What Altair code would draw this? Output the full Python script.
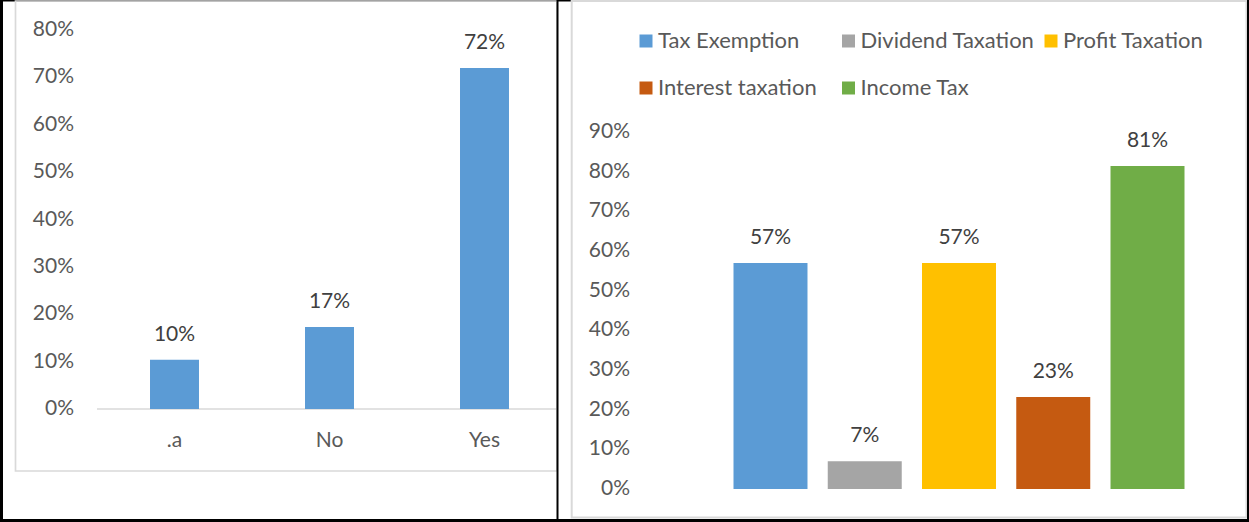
import altair as alt
import pandas as pd

# ---------------- data ----------------
left_categories = [".a", "No", "Yes"]
left_values = [0.104, 0.173, 0.72]
left_ticks = [0.0, 0.1, 0.2, 0.3, 0.4, 0.5, 0.6, 0.7, 0.8]

right_categories = ["Tax Exemption", "Dividend Taxation", "Profit Taxation",
                    "Interest taxation", "Income Tax"]
right_values = [0.57, 0.07, 0.57, 0.232, 0.814]
right_colors = ["#5B9BD5", "#A5A5A5", "#FFC000", "#C55A11", "#70AD47"]
right_ticks = [0.0, 0.1, 0.2, 0.3, 0.4, 0.5, 0.6, 0.7, 0.8, 0.9]

FONT = "Lato"
FS = 21
AXIS_TXT = "#595959"
LABEL_TXT = "#404040"
GRID_GRAY = "#D9D9D9"

left_df = pd.DataFrame({"cat": left_categories, "val": left_values})
left_tick_df = pd.DataFrame({"tick": left_ticks})
right_df = pd.DataFrame({"cat": right_categories, "val": right_values})
right_tick_df = pd.DataFrame({"tick": right_ticks})
one = pd.DataFrame({"k": [0]})

# ---------------- left panel ----------------
xL_scale = alt.Scale(domain=left_categories, range=[97, 562],
                     paddingInner=0.684, paddingOuter=0.342)
yL_scale = alt.Scale(domain=[0, 0.8], range=[409, 30], nice=False)

left_base = alt.Chart(one).mark_rule(color=GRID_GRAY, strokeWidth=1.5).encode(
    x=alt.value(97), x2=alt.value(557), y=alt.datum(0, scale=yL_scale, axis=None)
)
left_bars = alt.Chart(left_df).mark_bar(color="#5B9BD5").encode(
    x=alt.X("cat:N", scale=xL_scale, axis=None),
    y=alt.Y("val:Q", scale=yL_scale, axis=None),
)
left_labels = alt.Chart(left_df).mark_text(
    font=FONT, fontSize=FS, color=LABEL_TXT, dy=-25, baseline="middle"
).encode(
    x=alt.X("cat:N", scale=xL_scale, axis=None),
    y=alt.Y("val:Q", scale=yL_scale, axis=None),
    text=alt.Text("val:Q", format=".0%"),
)
left_xlabels = alt.Chart(left_df).mark_text(
    font=FONT, fontSize=FS, color=AXIS_TXT, baseline="middle"
).encode(
    x=alt.X("cat:N", scale=xL_scale, axis=None),
    y=alt.value(441),
    text="cat:N",
)
left_yticks = alt.Chart(left_tick_df).mark_text(
    font=FONT, fontSize=FS, color=AXIS_TXT, align="right", baseline="middle"
).encode(
    x=alt.value(74),
    y=alt.Y("tick:Q", scale=yL_scale, axis=None),
    text=alt.Text("tick:Q", format=".0%"),
)
left_group = alt.layer(left_base, left_bars, left_labels, left_xlabels, left_yticks)

# ---------------- right panel ----------------
xR_scale = alt.Scale(domain=right_categories, range=[733.5, 1184.5],
                     paddingInner=0.215, paddingOuter=0)
yR_scale = alt.Scale(domain=[0, 0.9], range=[489, 132], nice=False)

right_bars = alt.Chart(right_df).mark_bar().encode(
    x=alt.X("cat:N", scale=xR_scale, axis=None),
    y=alt.Y("val:Q", scale=yR_scale, axis=None),
    color=alt.Color(
        "cat:N",
        scale=alt.Scale(domain=right_categories, range=right_colors),
        legend=alt.Legend(
            title=None, orient="none", legendX=635, legendY=30,
            direction="horizontal",
            columns=3, gridAlign="all", columnPadding=4.5, rowPadding=25,
            symbolType="square", symbolSize=169, symbolStrokeWidth=0,
            symbolOpacity=1, labelFont=FONT, labelFontSize=22,
            labelColor=AXIS_TXT, labelOffset=1, labelLimit=400, padding=0,
        ),
    ),
)
right_labels = alt.Chart(right_df).mark_text(
    font=FONT, fontSize=FS, color=LABEL_TXT, dy=-25, baseline="middle"
).encode(
    x=alt.X("cat:N", scale=xR_scale, axis=None),
    y=alt.Y("val:Q", scale=yR_scale, axis=None),
    text=alt.Text("val:Q", format=".0%"),
)
right_yticks = alt.Chart(right_tick_df).mark_text(
    font=FONT, fontSize=FS, color=AXIS_TXT, align="right", baseline="middle"
).encode(
    x=alt.value(630),
    y=alt.Y("tick:Q", scale=yR_scale, axis=None),
    text=alt.Text("tick:Q", format=".0%"),
)
right_group = alt.layer(right_bars, right_labels, right_yticks)

# ---------------- frames ----------------
top_line = alt.Chart(one).mark_rule(color="black", strokeWidth=1.5).encode(
    x=alt.value(0), x2=alt.value(1249), y=alt.value(0.75))
left_box = alt.Chart(one).mark_rect(fillOpacity=0, stroke=GRID_GRAY, strokeWidth=1.7).encode(
    x=alt.value(15.5), x2=alt.value(557), y=alt.value(1), y2=alt.value(471))
right_box = alt.Chart(one).mark_rect(fillOpacity=0, stroke=GRID_GRAY, strokeWidth=2).encode(
    x=alt.value(571.7), x2=alt.value(1246.5), y=alt.value(1), y2=alt.value(517.5))
left_line = alt.Chart(one).mark_rule(color="black", strokeWidth=3).encode(
    x=alt.value(1.5), y=alt.value(0), y2=alt.value(522))
right_line = alt.Chart(one).mark_rule(color="black", strokeWidth=2).encode(
    x=alt.value(1248), y=alt.value(0), y2=alt.value(522))
bottom_line = alt.Chart(one).mark_rule(color="black", strokeWidth=3).encode(
    x=alt.value(0), x2=alt.value(1249), y=alt.value(520.5))
divider = alt.Chart(one).mark_rule(color="black", strokeWidth=2).encode(
    x=alt.value(557.5), y=alt.value(0), y2=alt.value(522))

chart = alt.layer(
    top_line, left_box, right_box, left_group, right_group,
    left_line, right_line, bottom_line, divider,
).resolve_scale(
    x="independent", y="independent"
).properties(
    width=1249, height=522, padding=0,
    autosize=alt.AutoSizeParams(type="none"),
    background="white",
).configure_view(stroke=None).configure(font=FONT)

chart.save("out.html", embed_options={"renderer": "svg", "actions": False})
